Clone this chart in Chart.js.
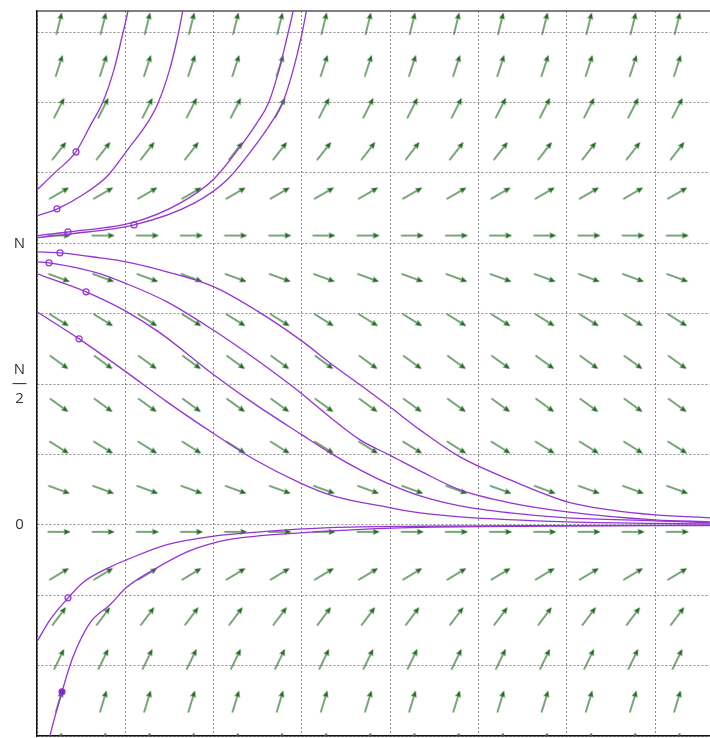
<!DOCTYPE html>
<html>
<head>
<meta charset="utf-8">
<style>
  html, body { margin: 0; padding: 0; background: #ffffff; }
  canvas { display: block; }
</style>
<script src="https://cdn.jsdelivr.net/npm/chart.js@4.4.1/dist/chart.umd.min.js"></script>
</head>
<body>
<canvas id="field" width="710" height="738"></canvas>
<script>
// Direction field and solution curves for a population model with
// equilibria at 0 and N. The level N sits at 4 on the value axis,
// so each horizontal grid step is N/4.

// ----- direction field -----
const arrowColumns = [0.25, 0.75, 1.25, 1.75, 2.25, 2.75, 3.25, 3.75, 4.25, 4.75, 5.25, 5.75, 6.25, 6.75, 7.25];
const arrowRows = [-3.11, -2.51, -1.91, -1.30, -0.70, -0.10, 0.50, 1.10, 1.70, 2.31, 2.91, 3.51, 4.11, 4.71, 5.31, 5.92, 6.52, 7.12];
// screen angle of the arrows in each row, degrees clockwise from "right"
const arrowAngles = [-77, -73, -64, -53, -31, 0, 20, 32, 36, 36, 32, 20, 0, -30, -52, -63, -72, -76];

// ----- value-axis labels -----
const tickValues = [0, 2, 4];
const tickTexts = ['0', ['N', '\u2014', '2'], 'N'];

// ----- solution curves [t, y] -----
const curveA = [[0, 4.76], [0.20, 5.00], [0.44, 5.30], [0.62, 5.71], [0.74, 5.99], [0.87, 6.46], [0.96, 6.92], [1.03, 7.30], [1.06, 7.50]];
const curveB = [[0, 4.39], [0.23, 4.49], [0.52, 4.69], [0.80, 4.96], [1.05, 5.37], [1.25, 5.71], [1.37, 5.99], [1.50, 6.46], [1.59, 6.92], [1.65, 7.30], [1.68, 7.50]];
const curveC = [[0, 4.11], [0.35, 4.16], [1.10, 4.30], [1.62, 4.57], [2.00, 4.91], [2.30, 5.37], [2.49, 5.71], [2.62, 5.99], [2.74, 6.46], [2.83, 6.92], [2.90, 7.30], [2.93, 7.50]];
const curveD = [[0, 4.08], [0.35, 4.13], [1.10, 4.26], [1.78, 4.57], [2.16, 4.91], [2.46, 5.37], [2.65, 5.71], [2.78, 5.99], [2.90, 6.46], [2.99, 6.92], [3.05, 7.30], [3.08, 7.50]];
const curveE = [[0, 3.878], [0.26, 3.864], [0.713, 3.793], [1.008, 3.736], [1.472, 3.594], [2.004, 3.381], [2.492, 3.040], [3.001, 2.610], [3.318, 2.300], [3.658, 1.990], [4.009, 1.662], [4.337, 1.349], [4.790, 0.966], [5.357, 0.639], [6.002, 0.327], [6.489, 0.213], [6.999, 0.142], [7.622, 0.099]];
const curveF = [[0, 3.736], [0.136, 3.722], [0.679, 3.580], [1.019, 3.423], [1.472, 3.168], [2.004, 2.760], [2.378, 2.440], [2.752, 2.100], [3.001, 1.860], [3.318, 1.530], [3.658, 1.207], [4.009, 0.980], [4.337, 0.767], [4.790, 0.497], [5.357, 0.313], [6.002, 0.185], [6.999, 0.071], [7.622, 0.043]];
const curveG = [[0, 3.565], [0.555, 3.310], [1.019, 3.026], [1.393, 2.727], [2.004, 2.130], [2.446, 1.733], [3.001, 1.278], [3.318, 1.023], [3.658, 0.781], [4.009, 0.568], [4.337, 0.412], [4.790, 0.270], [5.357, 0.170], [6.002, 0.099], [6.999, 0.057], [7.622, 0.028]];
const curveH = [[0, 3.026], [0.476, 2.642], [1.008, 2.173], [1.472, 1.747], [2.004, 1.293], [2.446, 0.938], [3.001, 0.582], [3.352, 0.412], [4.009, 0.241], [4.337, 0.170], [4.790, 0.114], [6.002, 0.043], [7.622, 0.014]];
const curveI = [[0, -1.66], [0.147, -1.35], [0.351, -1.04], [0.521, -0.82], [0.827, -0.60], [1.008, -0.50], [1.472, -0.28], [2.004, -0.16], [2.525, -0.10], [3.318, -0.04], [4.337, -0.02], [5.923, -0.01], [7.622, -0.005]];
const curveJ = [[0.113, -3.196], [0.147, -2.997], [0.283, -2.372], [0.408, -1.875], [0.600, -1.392], [0.827, -1.136], [1.008, -0.895], [1.280, -0.668], [1.699, -0.384], [2.004, -0.256], [2.299, -0.185], [2.978, -0.114], [4.111, -0.043], [5.810, -0.018], [7.622, -0.010]];

// initial points marked on the curves
const openMarks = [[0.442, 5.298], [0.226, 4.489], [0.351, 4.162], [1.099, 4.261], [0.260, 3.864], [0.136, 3.722], [0.555, 3.310], [0.476, 2.642], [0.351, -1.037]];
const filledMarks = [[0.283, -2.372]];

const curveColor = '#9434d4';
const arrowColor = '#1f6b1f';
const gridColor = '#8c8c8c';

// arrow glyph used as the point style of the field, pointing right
function makeArrow() {
  const cv = document.createElement('canvas');
  cv.width = 28; cv.height = 12;
  const g = cv.getContext('2d');
  g.strokeStyle = arrowColor;
  g.fillStyle = arrowColor;
  g.lineWidth = 1.2;
  g.beginPath();
  g.moveTo(2.5, 6);
  g.lineTo(21, 6);
  g.stroke();
  g.beginPath();
  g.moveTo(25.5, 6);
  g.lineTo(18.5, 2.9);
  g.lineTo(20, 6);
  g.lineTo(18.5, 9.1);
  g.closePath();
  g.fill();
  return cv;
}
const arrowGlyph = makeArrow();

const fieldPoints = [];
arrowRows.forEach((y, r) => {
  arrowColumns.forEach(x => fieldPoints.push({ x: x, y: y, a: arrowAngles[r] }));
});

const toXY = arr => arr.map(p => ({ x: p[0], y: p[1] }));

const curveSet = (data) => ({
  type: 'line',
  data: toXY(data),
  borderColor: curveColor,
  borderWidth: 1.3,
  pointRadius: 0,
  fill: false,
  cubicInterpolationMode: 'monotone',
  order: 2
});

// solid frame line along the top of the plot
const topFrame = {
  id: 'topFrame',
  afterDraw(chart) {
    const { ctx, chartArea } = chart;
    ctx.save();
    ctx.strokeStyle = '#555555';
    ctx.lineWidth = 1.5;
    ctx.beginPath();
    ctx.moveTo(chartArea.left, chartArea.top);
    ctx.lineTo(chartArea.right, chartArea.top);
    ctx.stroke();
    ctx.restore();
  }
};

new Chart(document.getElementById('field'), {
  type: 'scatter',
  data: {
    datasets: [
      {
        data: toXY(openMarks),
        pointStyle: 'circle',
        pointRadius: 3,
        pointBorderWidth: 1.2,
        pointBorderColor: curveColor,
        pointBackgroundColor: 'rgba(255,255,255,0)',
        order: 0
      },
      {
        data: toXY(filledMarks),
        pointStyle: 'circle',
        pointRadius: 3,
        pointBorderWidth: 1.2,
        pointBorderColor: curveColor,
        pointBackgroundColor: '#7a2cc0',
        order: 0
      },
      curveSet(curveA), curveSet(curveB), curveSet(curveC), curveSet(curveD),
      curveSet(curveE), curveSet(curveF), curveSet(curveG), curveSet(curveH),
      curveSet(curveI), curveSet(curveJ),
      {
        data: fieldPoints,
        pointStyle: arrowGlyph,
        pointRadius: 12,
        rotation: c => (c.raw ? c.raw.a : 0),
        order: 3
      }
    ]
  },
  options: {
    responsive: false,
    animation: false,
    events: [],
    layout: { autoPadding: false, padding: { top: 11, bottom: 2, left: 0, right: 0 } },
    plugins: { legend: { display: false }, tooltip: { enabled: false } },
    scales: {
      x: {
        type: 'linear',
        min: 0,
        max: 7.62,
        ticks: { display: false, stepSize: 1, includeBounds: false },
        grid: { color: gridColor, lineWidth: 1, drawTicks: false },
        border: { display: true, color: '#111111', width: 1.5, dash: [2, 2] },
        afterFit: s => { s.height = 0; s.paddingLeft = 0; s.paddingRight = 0; }
      },
      y: {
        type: 'linear',
        min: -3,
        max: 7.3,
        afterBuildTicks: s => { s.ticks = [-3, -2, -1, 0, 1, 2, 3, 4, 5, 6, 7].map(v => ({ value: v })); },
        ticks: {
          stepSize: 1,
          padding: 10,
          crossAlign: 'center',
          color: '#333333',
          font: { family: '"Open Sans", "DejaVu Sans", sans-serif', size: 15, lineHeight: 0.95 },
          callback: v => {
            const i = tickValues.indexOf(v);
            return i >= 0 ? tickTexts[i] : '';
          }
        },
        grid: { color: gridColor, lineWidth: 1, drawTicks: false },
        border: { display: true, color: '#111111', width: 1.5, dash: [2, 2] },
        afterFit: s => { s.width = 37; s.paddingTop = 0; s.paddingBottom = 0; }
      }
    }
  },
  plugins: [topFrame]
});
</script>
</body>
</html>
